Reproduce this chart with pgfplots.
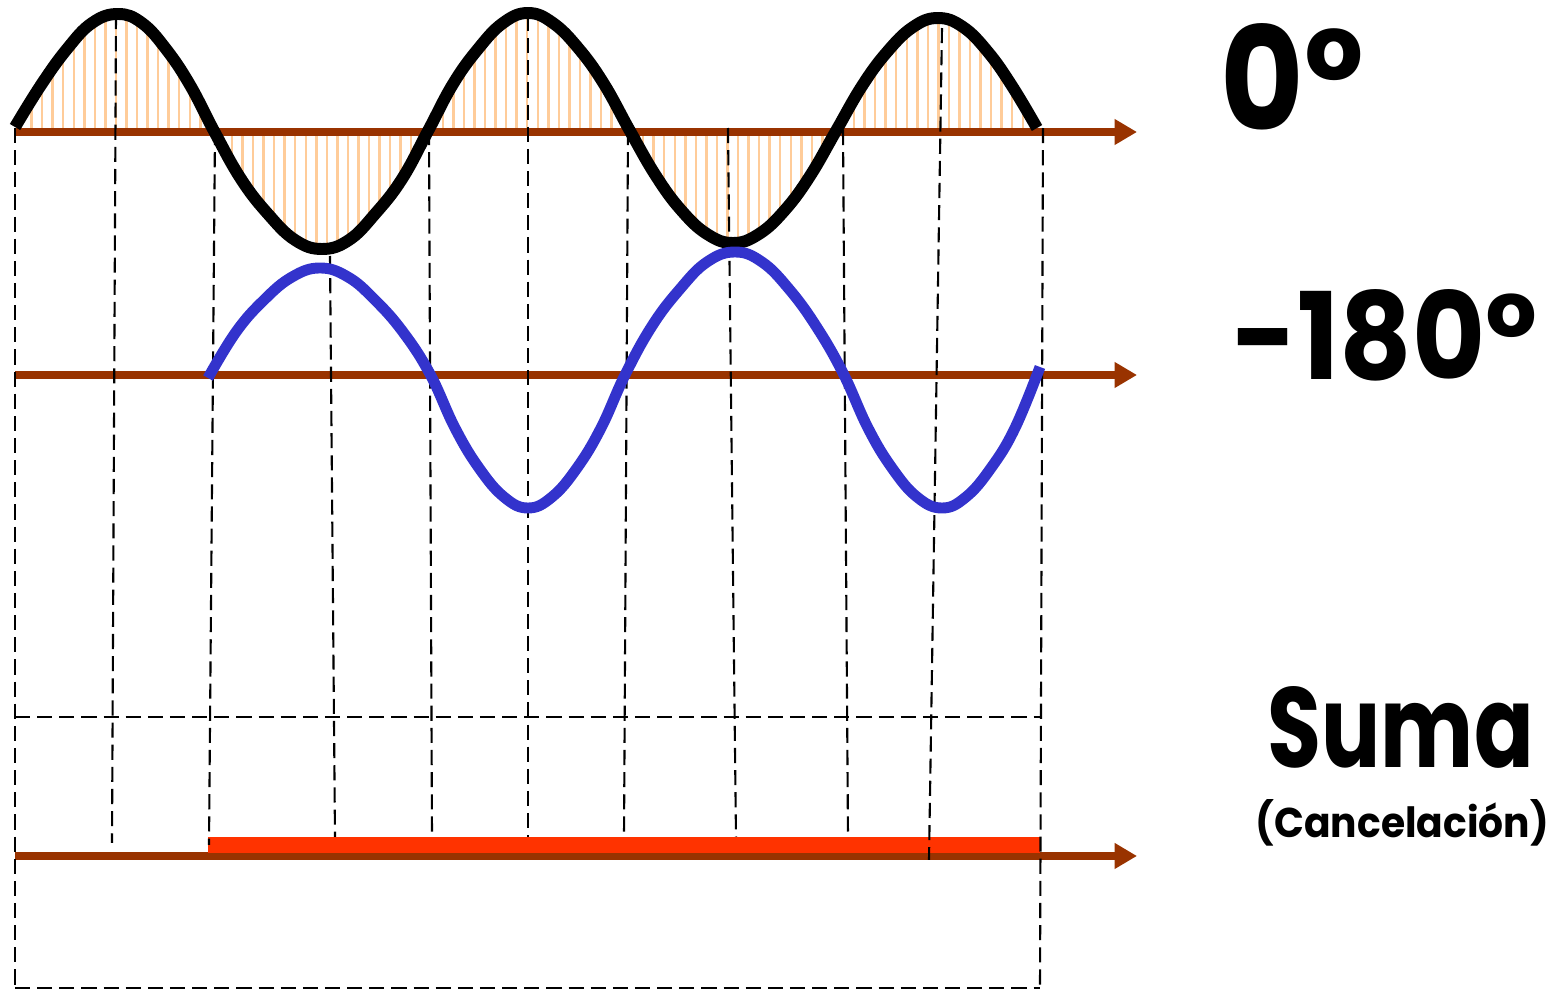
\documentclass[border=0pt]{standalone}
\usepackage{fontspec}
\setmainfont{Poppins}
\usepackage{pgfplots}
\pgfplotsset{compat=1.18}
\usetikzlibrary{arrows.meta,patterns.meta}

\definecolor{eje}{HTML}{993300}
\definecolor{azul}{HTML}{3333CC}
\definecolor{rojo}{HTML}{FF3300}
\definecolor{rayado}{HTML}{FFCC99}

\begin{document}
\begin{tikzpicture}
\begin{axis}[
    scale only axis,
    width=155.8mm, height=99mm,
    xmin=0, xmax=1558,
    ymin=0, ymax=990,
    y dir=reverse,
    hide axis,
    clip=false,
    guia/.style={black, line width=0.6pt, dash pattern=on 4.3pt off 2pt},
    flecha/.style={eje, line width=2.2pt, -{Triangle[length=6.4pt, width=7pt]}},
    onda/.style={smooth, tension=0.7}
]

% marco invisible para la caja
\addplot[draw=none, forget plot] coordinates {(0,0) (1558,990)};

% rayado bajo la onda de 0 grados
\addplot[draw=none, pattern={Lines[angle=90, distance=3pt, line width=0.7pt]},
         pattern color=rayado, onda]
coordinates {
(15,132)
(15,127) (41,85) (67,49) (92,23) (118,14) (142,23) (166,49) (190,85) (214,131)
(241,179) (268,214) (295,240) (322,249) (349,240) (375,214) (402,179) (428,131)
(453,84) (478,49) (503,23) (528,13) (553,23) (579,49) (604,84) (630,131)
(656,176) (681,210) (707,234) (733,243) (759,234) (785,210) (810,176) (836,131)
(862,86) (887,52) (913,27) (938,18) (963,27) (988,52) (1012,86) (1037,128)
(1037,132)
} -- cycle;

% ejes
\addplot[flecha] coordinates {(15,132) (1137,132)};
\addplot[flecha] coordinates {(15,375) (1137,375)};
\addplot[flecha] coordinates {(15,856) (1137,856)};

% suma: cancelacion
\addplot[draw=none, fill=rojo] coordinates {(208,837) (1040,837) (1040,853) (208,853)} -- cycle;

% lineas guia
\addplot[guia] coordinates {(15,128) (15,988)};
\addplot[guia] coordinates {(116,14) (112,843)};
\addplot[guia] coordinates {(215,130) (209,845)};
\addplot[guia] coordinates {(330,256) (335,837)};
\addplot[guia] coordinates {(429,130) (432,837)};
\addplot[guia] coordinates {(528,16) (528,837)};
\addplot[guia] coordinates {(628,130) (624,837)};
\addplot[guia] coordinates {(728,128) (736,837)};
\addplot[guia] coordinates {(843,130) (848,837)};
\addplot[guia] coordinates {(942,28) (929,860)};
\addplot[guia] coordinates {(1043,128) (1040,988)};
\addplot[guia] coordinates {(15,717) (1040,717)};
\addplot[guia] coordinates {(15,988) (1040,988)};

% onda 0 grados
\addplot[black, line width=3.4pt, onda] coordinates {
(15,127) (41,85) (67,49) (92,23) (118,14) (142,23) (166,49) (190,85) (214,131)
(241,179) (268,214) (295,240) (322,249) (349,240) (375,214) (402,179) (428,131)
(453,84) (478,49) (503,23) (528,13) (553,23) (579,49) (604,84) (630,131)
(656,176) (681,210) (707,234) (733,243) (759,234) (785,210) (810,176) (836,131)
(862,86) (887,52) (913,27) (938,18) (963,27) (988,52) (1012,86) (1037,128)
};

% onda -180 grados
\addplot[azul, line width=3.1pt, onda] coordinates {
(208,378) (236,332) (264,300) (292,277) (320,268) (348,277) (375,300) (403,332) (430,374)
(455,428) (479,468) (504,497) (528,508) (552,497) (577,468) (601,428) (625,375)
(652,326) (680,289) (707,262) (735,252) (762,262) (789,289) (816,326) (843,373)
(868,428) (892,468) (917,497) (942,508) (966,497) (991,468) (1015,428) (1040,367)
};

% rotulos
\node[anchor=base west, inner sep=0pt] at (axis cs:1220,130)
  {\resizebox{14.3mm}{10.7mm}{\fontsize{40}{40}\selectfont\bfseries 0°}};
\node[anchor=base west, inner sep=0pt] at (axis cs:1232,380)
  {\resizebox{30.5mm}{9.0mm}{\fontsize{34}{34}\selectfont\bfseries -180°}};
\node[anchor=base west, inner sep=0pt] at (axis cs:1267,768)
  {\resizebox{26.6mm}{8.1mm}{\fontsize{32}{32}\selectfont\bfseries Suma}};
\node[anchor=base west, inner sep=0pt] at (axis cs:1255,838)
  {\resizebox{29.3mm}{3.8mm}{\fontsize{12}{12}\selectfont\bfseries (Cancelación)}};

\end{axis}
\end{tikzpicture}
\end{document}
